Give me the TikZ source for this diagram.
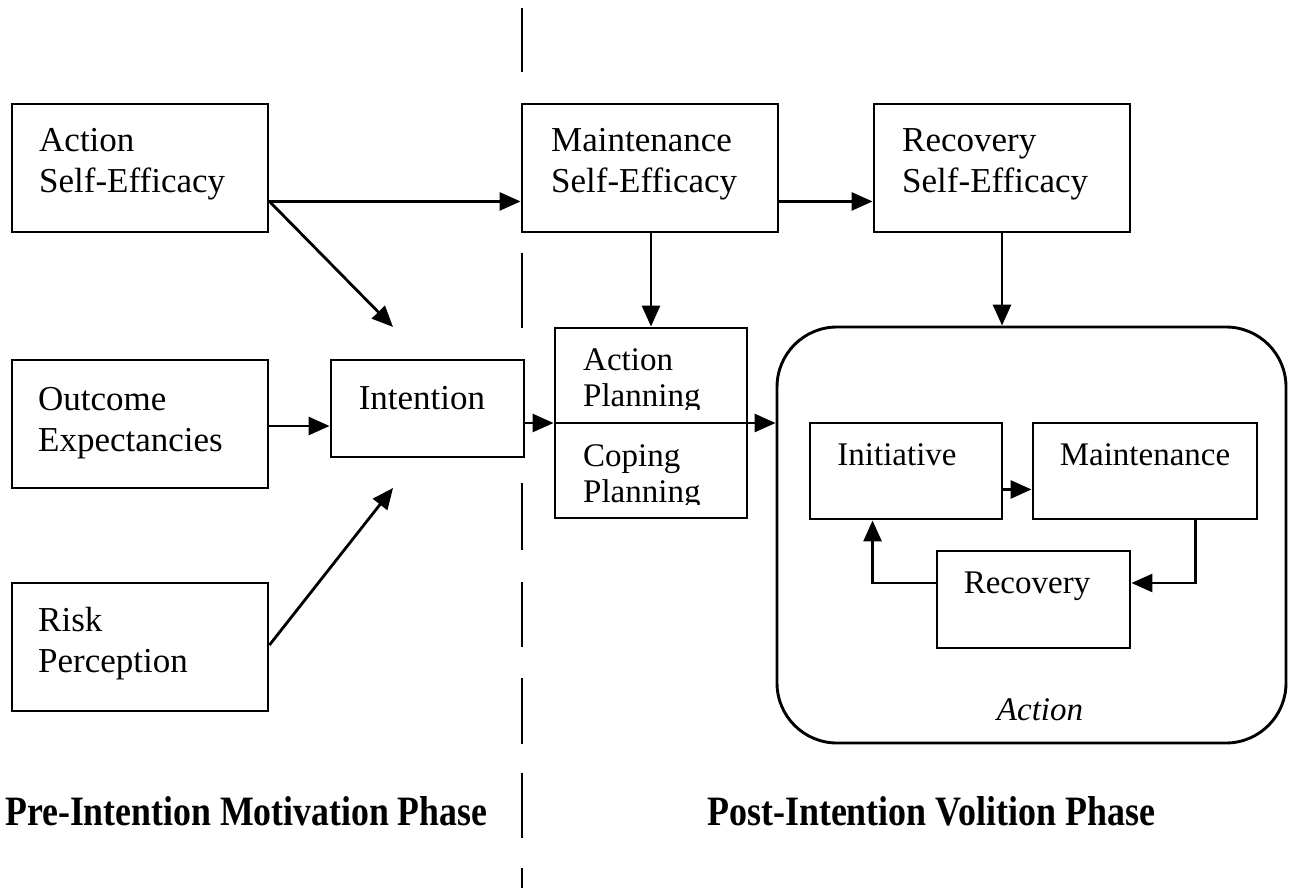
\documentclass[tikz,border=0pt]{standalone}
\usepackage{fontspec}
\setmainfont{Liberation Serif}
\usepackage{graphicx}
\usetikzlibrary{arrows.meta}
\tikzset{
  box/.style={draw=black, line width=2.9pt, inner sep=0pt, fill=none},
  arr/.style={line width=2.8pt, -{Triangle[length=21pt,width=18pt]}},
  txt/.style={inner sep=0pt, align=left, font=\fontsize{35}{41}\selectfont},
  stxt/.style={inner sep=0pt, align=left, font=\fontsize{33}{36}\selectfont},
  dashline/.style={line width=2.6pt}
}
\begin{document}
\begin{tikzpicture}[x=1pt, y=-1pt]
\useasboundingbox (0,0) rectangle (1292,888);
% dashed divider
\draw[dashline] (522,8) -- (522,72) (522,253) -- (522,328) (522,483) -- (522,550)
  (522,582) -- (522,647) (522,678) -- (522,744) (522,773) -- (522,838) (522,868) -- (522,888);
% boxes
\node[box, minimum width=256pt, minimum height=128pt] (AS) at (140,168) {};
\node[box, minimum width=256pt, minimum height=128pt] (OE) at (140,424) {};
\node[box, minimum width=256pt, minimum height=128pt] (RP) at (140,647) {};
\node[box, minimum width=193pt, minimum height=97pt] (IN) at (427.5,408.5) {};
\node[box, fill=white, minimum width=256pt, minimum height=128pt] (MS) at (650,168) {};
\node[box, minimum width=256pt, minimum height=128pt] (RS) at (1002,168) {};
\node[box, minimum width=192pt, minimum height=190pt] (PL) at (651,423) {};
\node[box, rounded corners=60pt, minimum width=509pt, minimum height=416pt] (AC) at (1031.5,535) {};
\node[box, minimum width=192pt, minimum height=96pt] (INI) at (906,471) {};
\node[box, minimum width=224pt, minimum height=96pt] (MA) at (1145,471) {};
\node[box, minimum width=193pt, minimum height=97pt] (RE) at (1033.5,599.5) {};
% texts (base anchor = baseline of last line)
\node[txt, anchor=base west] (tAS) at (39,192) {Action\\Self-Efficacy};
\node[txt, anchor=base west] (tOE) at (38,451) {Outcome\\Expectancies};
\node[txt, anchor=base west] (tRP) at (38,672) {Risk\\Perception};
\node[txt, anchor=base] (tIN) at (422,409) {Intention};
\node[txt, anchor=base west] (tMS) at (551,192) {Maintenance\\Self-Efficacy};
\node[txt, anchor=base west] (tRS) at (902,192) {Recovery\\Self-Efficacy};
\begin{scope}
  \clip (555,328) rectangle (747,409);
  \node[stxt, anchor=base west] (tAP) at (583,406) {Action\\Planning};
\end{scope}
\begin{scope}
  \clip (555,423) rectangle (747,504);
  \node[stxt, anchor=base west] (tCP) at (583,502) {Coping\\Planning};
\end{scope}
\node[stxt, anchor=base] (tINI) at (897,465) {Initiative};
\node[stxt, anchor=base] (tMA) at (1145,465) {Maintenance};
\node[stxt, anchor=base] (tRE) at (1027,593) {Recovery};
\node[stxt, anchor=base, font=\fontsize{33}{36}\selectfont\itshape] (tAC) at (1040,720) {Action};
\node[inner sep=0pt, anchor=base west] (pre) at (5,825) {\resizebox{482pt}{29pt}{\textbf{Pre-Intention Motivation Phase}}};
\node[inner sep=0pt, anchor=base west] (post) at (707,825) {\resizebox{448pt}{29pt}{\textbf{Post-Intention Volition Phase}}};
% connectors
\coordinate (c1) at (393,327);
\coordinate (c2) at (393,488);
\draw[arr] ([yshift=32pt]AS.south east) -- ([yshift=32pt]MS.south west);
\draw[arr] ([yshift=32pt]AS.south east) -- (c1);
\draw[arr] ([yshift=2pt]RP.east) -- (c2);
\draw[arr] ([yshift=-2pt]OE.east) -- ([yshift=-2pt]OE.east -| IN.west);
\draw[arr] (IN.east |- PL.west) -- (PL.west);
\draw[arr] (PL.west) -- (PL.west -| AC.west);
\draw[arr] (PL.north |- MS.south) -- (PL.north);
\draw[arr] ([yshift=32pt]MS.south east) -- ([yshift=32pt]RS.south west);
\draw[arr] (RS.south) -- (RS.south |- AC.north);
\draw[arr] ([yshift=31pt]INI.south east) -- ([yshift=31pt]MA.south west);
\draw[arr] ([xshift=-63pt]MA.south east) |- ([yshift=16.5pt]RE.east);
\draw[arr] ([yshift=16.5pt]RE.west) -| ([xshift=64pt]INI.south west);
\end{tikzpicture}
\end{document}
